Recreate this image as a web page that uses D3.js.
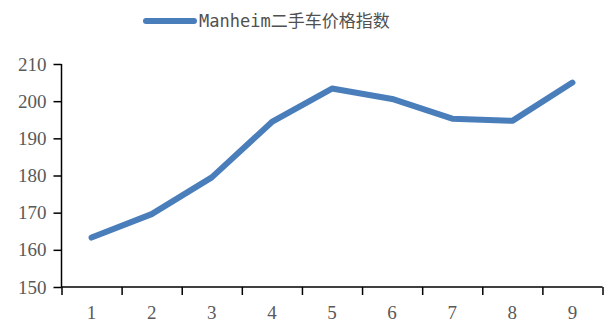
<!DOCTYPE html>
<html>
<head>
<meta charset="utf-8">
<script src="https://cdn.jsdelivr.net/npm/d3@7/dist/d3.min.js"></script>
<style>
  html, body { margin: 0; padding: 0; background: #fff; }
  svg { display: block; }
</style>
</head>
<body>
<svg id="chart" width="608" height="322"></svg>
<script>
// Manheim used-vehicle value index
const seriesName = "Manheim二手车价格指数";
const categories = ["1", "2", "3", "4", "5", "6", "7", "8", "9"];
const values = [163.3, 169.6, 179.5, 194.4, 203.4, 200.6, 195.3, 194.7, 205.0];
const yTicks = [150, 160, 170, 180, 190, 200, 210];

const lineColor = "#4a7ebb";
const labelColor = "#595959";

const svg = d3.select("#chart");

const plot = { left: 61.5, right: 602.5, top: 64, bottom: 287 };

const x = d3.scaleBand().domain(categories).range([plot.left, plot.right]);
const xEdges = d3.scaleLinear().domain([0, categories.length]).range([plot.left, plot.right]);
const y = d3.scaleLinear().domain([150, 210]).range([plot.bottom, plot.top]);

// Y axis
const yAxis = svg.append("g")
  .attr("transform", `translate(${plot.left},0)`)
  .call(d3.axisLeft(y).tickValues(yTicks).tickSize(8).tickPadding(7).tickFormat(d3.format("d")));
yAxis.select(".domain").attr("stroke", "#000").attr("stroke-width", 1.5).attr("d", `M0,${plot.top}V${plot.bottom}`);
yAxis.selectAll(".tick line").attr("stroke", "#000").attr("stroke-width", 1.5);
yAxis.selectAll(".tick text")
  .attr("fill", labelColor)
  .style("font-family", "'Liberation Serif', 'Times New Roman', serif")
  .style("font-size", "19px");

// X axis: tick marks at category boundaries
const xTickAxis = svg.append("g")
  .attr("transform", `translate(0,${plot.bottom})`)
  .call(d3.axisBottom(xEdges).tickValues(d3.range(0, categories.length + 1)).tickSize(8).tickFormat(""));
xTickAxis.select(".domain").attr("stroke", "#000").attr("stroke-width", 1.5).attr("d", `M${plot.left},0H${plot.right}`);
xTickAxis.selectAll(".tick line").attr("stroke", "#000").attr("stroke-width", 1.5);

// X axis: category labels centred in their bands
const xLabelAxis = svg.append("g")
  .attr("transform", `translate(0,${plot.bottom})`)
  .call(d3.axisBottom(x).tickSize(0).tickPadding(19));
xLabelAxis.select(".domain").remove();
xLabelAxis.selectAll(".tick text")
  .attr("fill", labelColor)
  .style("font-family", "'Liberation Serif', 'Times New Roman', serif")
  .style("font-size", "19px");

// Series line
const line = d3.line()
  .x((d, i) => x(categories[i]) + x.bandwidth() / 2)
  .y(d => y(d));

svg.append("path")
  .datum(values)
  .attr("fill", "none")
  .attr("stroke", lineColor)
  .attr("stroke-width", 6)
  .attr("stroke-linejoin", "round")
  .attr("stroke-linecap", "round")
  .attr("d", line);

// Legend
const legend = svg.append("g").attr("transform", "translate(0,21)");
legend.append("line")
  .attr("x1", 146).attr("x2", 194)
  .attr("y1", 0).attr("y2", 0)
  .attr("stroke", lineColor)
  .attr("stroke-width", 6)
  .attr("stroke-linecap", "round");
legend.append("text")
  .attr("x", 199)
  .attr("y", 6)
  .attr("fill", "#505050")
  .style("font-family", "'DejaVu Sans Mono', 'Noto Sans CJK SC', monospace")
  .style("font-size", "17px")
  .text(seriesName);
</script>
</body>
</html>
